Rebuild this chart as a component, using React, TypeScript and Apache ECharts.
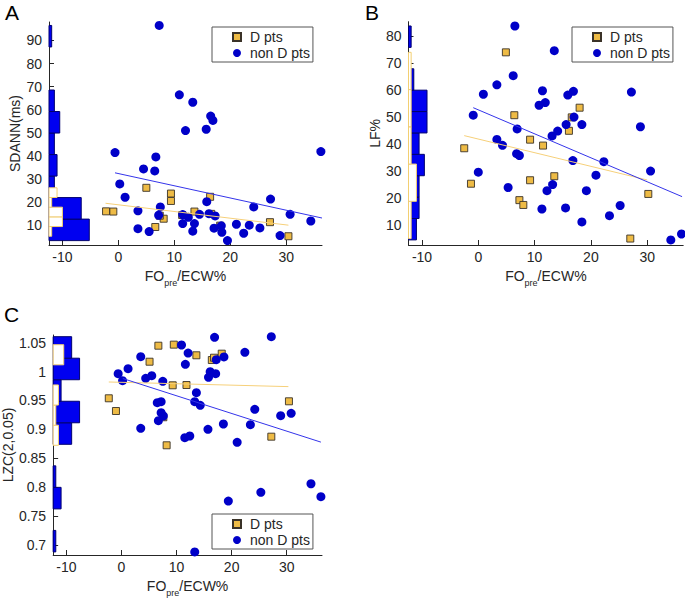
import React, { useEffect, useRef } from 'react';
import * as echarts from 'echarts';

const FONT = 'Liberation Sans, Arial, Helvetica, sans-serif';
const TXT = '#262626';
const X_MIN = -12.4;
const X_MAX = 36.4;
const xTicks = [-10, 0, 10, 20, 30];

// ---------- Panel A: SDANN(ms) ----------
const aNonD: number[][] = [
  [7.3, 96.5], [10.9, 66.4], [13.3, 63.2], [12.0, 50.9], [16.5, 57.2], [16.9, 55.3], [15.7, 51.5],
  [-0.6, 41.4], [6.7, 39.5], [4.5, 34.3], [6.5, 33.4], [36.2, 41.8], [0.25, 27.8], [1.2, 22.0],
  [3.5, 16.1], [3.5, 8.4], [5.5, 7.1], [7.5, 17.8], [7.2, 14.2], [11.5, 14.5], [11.5, 10.6],
  [12.5, 13.3], [13.3, 7.3], [13.6, 10.6], [14.5, 14.6], [15.8, 20.1], [16.2, 14.9], [17.3, 13.9],
  [17.1, 8.6], [18.4, 9.6], [18.5, 6.8], [19.5, 3.2], [21.1, 10.3], [22.4, 6.4], [23.4, 9.9],
  [24.2, 17.8], [25.3, 8.7], [27.2, 21.2], [28.9, 5.4], [30.7, 14.6], [34.4, 11.7]
];
const aD: number[][] = [
  [-2.2, 15.9], [-0.9, 15.8], [5.0, 26.1], [9.4, 23.6], [9.4, 20.4], [6.6, 9.1], [8.1, 12.7],
  [13.6, 15.8], [16.4, 22.2], [18.2, 9.7], [27.1, 11.2], [30.4, 5.1], [7.4, 14.0], [11.4, 14.3], [16.6, 14.8]
];
const aFitNonD = [[-0.6, 32.6], [36.4, 13.0]];
const aFitD = [[-2.3, 19.4], [30.4, 9.9]];
const aHistNonD = { start: 3.2, width: 9.33, counts: [15, 12, 2, 3, 2, 4, 2, 0, 0, 1] };
const aHistD = { start: 5.1, width: 4.2, counts: [1, 5, 5, 1, 3] };
const aYTicks = [10, 20, 30, 40, 50, 60, 70, 80, 90];

// ---------- Panel B: LF% ----------
const bNonD: number[][] = [
  [6.5, 83.9], [13.5, 74.7], [6.2, 65.4], [3.3, 62.0], [0.9, 58.5], [11.4, 59.8], [16.9, 59.6],
  [15.9, 58.2], [10.8, 54.4], [11.9, 55.4], [27.2, 59.3], [-0.9, 50.7], [17.0, 50.0], [6.9, 45.6],
  [15.6, 47.2], [18.4, 47.2], [28.8, 46.4], [14.1, 44.8], [13.1, 43.0], [3.3, 41.7], [4.3, 39.5],
  [6.8, 36.4], [7.3, 35.7], [16.8, 33.8], [22.3, 33.4], [0.0, 29.5], [20.9, 28.4], [30.6, 29.9],
  [5.3, 23.8], [13.2, 24.9], [12.2, 22.6], [19.2, 22.6], [11.3, 15.8], [15.5, 16.2], [18.4, 11.0],
  [23.3, 13.3], [25.2, 17.1], [34.2, 4.3], [36.1, 6.5]
];
const bD: number[][] = [
  [4.9, 74.1], [6.4, 50.7], [18.0, 53.5], [16.6, 49.9], [16.1, 44.9], [9.2, 41.6], [11.5, 39.4],
  [-2.5, 38.4], [-1.3, 25.2], [9.2, 26.5], [13.5, 28.0], [7.3, 19.1], [8.0, 17.3], [30.2, 21.4], [27.0, 4.8]
];
const bFitNonD = [[-0.9, 53.5], [36.2, 20.4]];
const bFitD = [[-2.5, 43.1], [30.0, 26.6]];
const bHistNonD = { start: 4.3, width: 7.96, counts: [3, 4, 4, 6, 4, 7, 7, 2, 0, 1] };
const bHistD = { start: 4.8, width: 13.86, counts: [1, 3, 1, 1, 1] };
const bYTicks = [10, 20, 30, 40, 50, 60, 70, 80];

// ---------- Panel C: LZC(2,0.05) ----------
const cNonD: number[][] = [
  [16.9, 1.0593], [27.2, 1.0604], [10.9, 1.046], [12.1, 1.032], [3.5, 1.0258], [22.4, 1.0334],
  [17.2, 1.0206], [18.6, 1.0253], [11.6, 1.0126], [1.2, 1.005], [-0.6, 0.9964], [4.4, 0.9884],
  [5.5, 0.9929], [0.2, 0.9843], [7.5, 0.9832], [16.1, 0.9998], [17.1, 0.9964], [15.8, 0.9901],
  [13.6, 0.9635], [6.5, 0.9462], [7.2, 0.9479], [13.3, 0.9479], [14.3, 0.9417], [7.2, 0.9289],
  [7.6, 0.9232], [6.7, 0.9151], [24.2, 0.9348], [28.9, 0.9237], [30.8, 0.9278], [23.4, 0.9081],
  [18.5, 0.9093], [3.5, 0.9019], [15.7, 0.9002], [12.4, 0.8886], [11.5, 0.8856], [21.0, 0.8777],
  [34.4, 0.806], [36.2, 0.7836], [25.3, 0.7912], [19.4, 0.776], [13.3, 0.688]
];
const cD: number[][] = [
  [6.7, 1.0448], [9.5, 1.0466], [13.6, 1.0282], [18.2, 1.031], [5.1, 1.0171], [16.4, 1.02],
  [16.8, 1.024], [9.3, 0.9763], [11.8, 0.9768], [-2.3, 0.9538], [-1.0, 0.9318], [30.4, 0.9486],
  [7.6, 0.921], [27.2, 0.8874], [8.2, 0.8725]
];
const cFitNonD = [[0.25, 0.988], [36.2, 0.878]];
const cFitD = [[-2.3, 0.982], [30.3, 0.974]];
const cHistNonD = { start: 0.688, width: 0.03724, counts: [1, 0, 3, 1, 0, 7, 10, 3, 10, 7] };
const cHistD = { start: 0.8725, width: 0.0348, counts: [2, 1, 2, 0, 4] };
const cYTicks = [0.7, 0.75, 0.8, 0.85, 0.9, 0.95, 1, 1.05];

const legendNames = ['D pts', 'non D pts'];
const BLUE = '#0000c8';
const GOLD = '#eebb45';

function histData(h: { start: number; width: number; counts: number[] }, scale: number) {
  return h.counts
    .map((c, i) => [h.start + i * h.width, h.start + (i + 1) * h.width, X_MIN + c * scale])
    .filter((d, i) => h.counts[i] > 0);
}

function histSeries(idx: number, data: number[][], fill: string, stroke: string, z: number) {
  return {
    type: 'custom',
    xAxisIndex: idx,
    yAxisIndex: idx,
    silent: true,
    z,
    data,
    encode: { x: 2, y: [0, 1] },
    renderItem: (_p: any, api: any) => {
      const y0 = api.value(0);
      const y1 = api.value(1);
      const x1 = api.value(2);
      const p0 = api.coord([X_MIN, y1]);
      const p1 = api.coord([x1, y0]);
      return {
        type: 'rect',
        shape: { x: p0[0], y: p0[1], width: p1[0] - p0[0], height: p1[1] - p0[1] },
        style: { fill, stroke, lineWidth: 1 }
      };
    }
  };
}

function panelSeries(idx: number, nonD: number[][], d: number[][], fitN: number[][], fitD: number[][],
  hN: any, hD: any, scale: number) {
  return [
    histSeries(idx, histData(hN, scale), '#0000f0', '#00006e', 2),
    histSeries(idx, histData(hD, scale), '#ffffff', '#f3cf72', 3),
    {
      type: 'scatter', name: 'D pts', xAxisIndex: idx, yAxisIndex: idx, data: d,
      symbol: 'rect', symbolSize: 7, z: 4,
      itemStyle: { color: GOLD, borderColor: '#3a3228', borderWidth: 0.9, opacity: 1 }
    },
    {
      type: 'scatter', name: 'non D pts', xAxisIndex: idx, yAxisIndex: idx, data: nonD,
      symbol: 'circle', symbolSize: 9, z: 5,
      itemStyle: { color: BLUE, opacity: 1 }
    },
    {
      type: 'line', xAxisIndex: idx, yAxisIndex: idx, data: fitD, symbol: 'none', z: 6, silent: true,
      lineStyle: { color: '#f6d07a', width: 1 }
    },
    {
      type: 'line', xAxisIndex: idx, yAxisIndex: idx, data: fitN, symbol: 'none', z: 6, silent: true,
      lineStyle: { color: '#3434ea', width: 1 }
    }
  ];
}

const axisLine = { show: true, onZero: false, lineStyle: { color: TXT, width: 1 } };

function xAxis(idx: number) {
  return {
    gridIndex: idx, type: 'value', min: X_MIN, max: X_MAX,
    axisLine,
    axisTick: { show: true, inside: true, length: 5, customValues: xTicks, lineStyle: { color: TXT } },
    axisLabel: { customValues: xTicks, fontSize: 14, color: TXT, fontFamily: FONT, margin: 5 },
    splitLine: { show: false },
    name: '{m|FO}{s|pre}{m|/ECW%}',
    nameLocation: 'middle',
    nameGap: 20,
    nameTextStyle: {
      color: TXT, fontFamily: FONT, fontSize: 14,
      rich: {
        m: { fontSize: 14, color: TXT, fontFamily: FONT },
        s: { fontSize: 9, color: TXT, fontFamily: FONT, padding: [13, 0, 0, 0] }
      }
    }
  };
}

function yAxis(idx: number, min: number, max: number, ticks: number[], name: string, gap: number) {
  return {
    gridIndex: idx, type: 'value', min, max,
    axisLine,
    axisTick: { show: true, inside: true, length: 5, customValues: ticks, lineStyle: { color: TXT } },
    axisLabel: {
      customValues: ticks, fontSize: 14, color: TXT, fontFamily: FONT, margin: 7,
      formatter: (v: number) => String(+v.toFixed(2))
    },
    splitLine: { show: false },
    name, nameLocation: 'middle', nameGap: gap,
    nameTextStyle: { color: TXT, fontFamily: FONT, fontSize: 14 }
  };
}

function legend(left: number, top: number) {
  return {
    left, top, orient: 'vertical', selectedMode: false,
    data: [
      { name: 'D pts', icon: 'rect' },
      { name: 'non D pts', icon: 'circle' }
    ],
    itemWidth: 8, itemHeight: 8, itemGap: 0,
    padding: [2, 3, 1, 20],
    borderColor: '#555555', borderWidth: 1, backgroundColor: '#ffffff',
    textStyle: { fontSize: 14, color: TXT, fontFamily: FONT, lineHeight: 16, padding: [0, 0, 0, 4] }
  };
}

export default function App() {
  const ref = useRef<HTMLDivElement>(null);
  useEffect(() => {
    if (!ref.current) return;
    const chart = echarts.init(ref.current, undefined, { renderer: 'svg' });
    const option: any = {
      animation: false,
      backgroundColor: '#ffffff',
      grid: [
        { left: 49, top: 22, width: 273, height: 223 },
        { left: 408.5, top: 21.7, width: 274.7, height: 223.3 },
        { left: 49, top: 335, width: 273, height: 220 }
      ],
      xAxis: [xAxis(0), xAxis(1), xAxis(2)],
      yAxis: [
        yAxis(0, 1.3, 98, aYTicks, 'SDANN(ms)', 27),
        yAxis(1, 2.4, 85.5, bYTicks, 'LF%', 27),
        yAxis(2, 0.6827, 1.0633, cYTicks, 'LZC(2,0.05)', 34)
      ],
      legend: [legend(212, 27), legend(572, 27), legend(212, 514)],
      series: [
        ...panelSeries(0, aNonD, aD, aFitNonD, aFitD, aHistNonD, aHistD, 0.48),
        ...panelSeries(1, bNonD, bD, bFitNonD, bFitD, bHistNonD, bHistD, 0.47),
        ...panelSeries(2, cNonD, cD, cFitNonD, cFitD, cHistNonD, cHistD, 0.48)
      ],
      graphic: [
        { type: 'text', left: 5, top: 2, style: { text: 'A', fontSize: 21, fill: '#000', fontFamily: FONT } },
        { type: 'text', left: 365, top: 2, style: { text: 'B', fontSize: 21, fill: '#000', fontFamily: FONT } },
        { type: 'text', left: 4, top: 304, style: { text: 'C', fontSize: 21, fill: '#000', fontFamily: FONT } }
      ]
    };
    chart.setOption(option);
    return () => chart.dispose();
  }, []);
  return (
    <div
      ref={ref}
      style={{ position: 'fixed', left: 0, top: 0, width: 685, height: 599, background: '#fff' }}
    />
  );
}
